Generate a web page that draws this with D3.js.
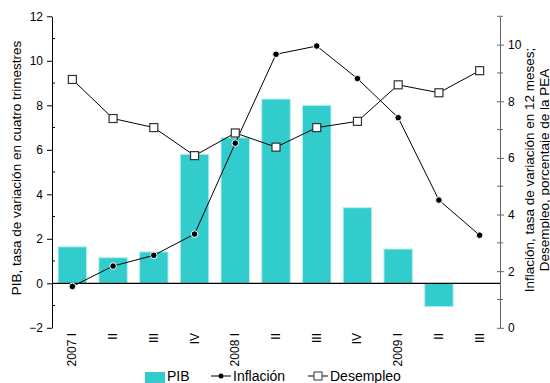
<!DOCTYPE html>
<html><head><meta charset="utf-8">
<script src="https://cdn.jsdelivr.net/npm/d3@7"></script>
<style>body{margin:0;background:#fff}svg{display:block;font-family:"Liberation Sans",Arial,sans-serif}</style>
</head><body><svg id="c" width="550" height="383"></svg>
<script>
const categories = ["2007 I","II","III","IV","2008 I","II","III","IV","2009 I","II","III"];
const pib = [1.64,1.15,1.41,5.8,6.54,8.28,8.0,3.4,1.54,-1.05,null];
const inflacion = [1.46,2.18,2.56,3.31,6.52,9.66,9.95,8.80,7.42,4.51,3.27];
const desempleo = [8.77,7.39,7.07,6.08,6.88,6.38,7.07,7.29,8.58,8.30,9.08];
const leftTicks = [-2,0,2,4,6,8,10,12];
const rightTicks = [0,2,4,6,8,10];

const svg = d3.select("#c");
const L = 52, R = 500, T = 16.3, B = 327.8;
const x = d3.scaleBand().domain(categories.map((d,i)=>i)).range([L,R]).padding(0);
const cx = i => x(i) + x.bandwidth()/2;
const yL = d3.scaleLinear().domain([-2,12]).range([B,T]);
const yR = d3.scaleLinear().domain([0,11]).range([B,T]);
const bw = x.bandwidth()*0.7;

// bars
svg.append("g").selectAll("rect").data(pib.map((v,i)=>({v,i})).filter(d=>d.v!==null)).join("rect")
  .attr("x", d=>cx(d.i)-bw/2).attr("width", bw)
  .attr("y", d=>yL(Math.max(0,d.v))).attr("height", d=>Math.abs(yL(d.v)-yL(0)))
  .attr("fill","#33CCCC").attr("stroke","#b8eeee").attr("stroke-width",1);

// zero line
svg.append("line").attr("x1",L).attr("x2",R).attr("y1",yL(0)).attr("y2",yL(0)).attr("stroke","#000").attr("stroke-width",1.2);

// left axis
const gl = svg.append("g").attr("transform",`translate(${L},0)`);
gl.call(d3.axisLeft(yL).tickValues(leftTicks).tickSize(5).tickSizeOuter(0).tickFormat(d3.format("d")));
gl.call(g=>g.select(".domain").attr("stroke","#000"));
gl.selectAll(".tick text").attr("font-size",12).attr("fill","#000").attr("x",-9);
gl.selectAll(".minor").data(d3.range(-1,12,2)).join("line").attr("class","minor")
  .attr("x1",0).attr("x2",3).attr("y1",d=>yL(d)).attr("y2",d=>yL(d)).attr("stroke","#000");

// right axis
const gr = svg.append("g").attr("transform",`translate(${R},0)`);
gr.call(d3.axisRight(yR).tickValues(rightTicks).tickSize(4).tickSizeOuter(0).tickFormat(d3.format("d")));
gr.select(".domain").attr("stroke","#666");
gr.selectAll(".tick line").attr("stroke","#666").attr("x1",-3);
gr.selectAll(".tick text").attr("font-size",12).attr("fill","#000").attr("x",8);
gr.selectAll(".minor").data(d3.range(1,12,2)).join("line").attr("class","minor")
  .attr("x1",-3).attr("x2",3).attr("y1",d=>yR(d)).attr("y2",d=>yR(d)).attr("stroke","#666");

// x labels
svg.append("g").selectAll("text").data(categories).join("text")
  .attr("transform",(d,i)=>`translate(${cx(i)+4},333) rotate(-90)`)
  .attr("text-anchor","end").attr("font-size",12).attr("fill","#000").text(d=>d);

// inflation line
svg.append("path").datum(inflacion).attr("d", d3.line().x((d,i)=>cx(i)).y(d=>yR(d))).attr("fill","none").attr("stroke","#000").attr("stroke-width",1);
// desempleo line
svg.append("path").datum(desempleo).attr("d", d3.line().x((d,i)=>cx(i)).y(d=>yR(d))).attr("fill","none").attr("stroke","#000").attr("stroke-width",1);

svg.append("g").selectAll("circle").data(inflacion).join("circle")
  .attr("cx",(d,i)=>cx(i)).attr("cy",d=>yR(d)).attr("r",3.3).attr("fill","#000").attr("stroke","#fff").attr("stroke-width",1);
svg.append("g").selectAll("rect").data(desempleo).join("rect")
  .attr("x",(d,i)=>cx(i)-4).attr("y",d=>yR(d)-4).attr("width",8).attr("height",8)
  .attr("fill","#fff").attr("stroke","#333").attr("stroke-width",1.2);

// axis titles
svg.append("text").attr("transform",`translate(21,168) rotate(-90)`).attr("text-anchor","middle")
  .attr("font-size",13.5).attr("fill","#000").text("PIB, tasa de variación en cuatro trimestres");
const rt = svg.append("text").attr("transform",`translate(534,170) rotate(-90)`).attr("text-anchor","middle")
  .attr("font-size",13.5).attr("fill","#000");
rt.append("tspan").attr("x",0).attr("dy",0).text("Inflación, tasa de variación en 12 meses;");
rt.append("tspan").attr("x",0).attr("dy",15).text("Desempleo, porcentaje de la PEA");

// legend
const lg = svg.append("g");
lg.append("rect").attr("x",145).attr("y",372).attr("width",20).attr("height",11).attr("fill","#33CCCC");
lg.append("text").attr("x",167).attr("y",381).attr("font-size",14).text("PIB");
lg.append("line").attr("x1",211).attr("x2",231).attr("y1",376).attr("y2",376).attr("stroke","#000");
lg.append("circle").attr("cx",221).attr("cy",376).attr("r",2.5).attr("fill","#000");
lg.append("text").attr("x",233).attr("y",381).attr("font-size",14).text("Inflación");
lg.append("line").attr("x1",308).attr("x2",328).attr("y1",376).attr("y2",376).attr("stroke","#000");
lg.append("rect").attr("x",314).attr("y",372).attr("width",8).attr("height",8).attr("fill","#fff").attr("stroke","#333");
lg.append("text").attr("x",330).attr("y",381).attr("font-size",14).text("Desempleo");
</script></body></html>
